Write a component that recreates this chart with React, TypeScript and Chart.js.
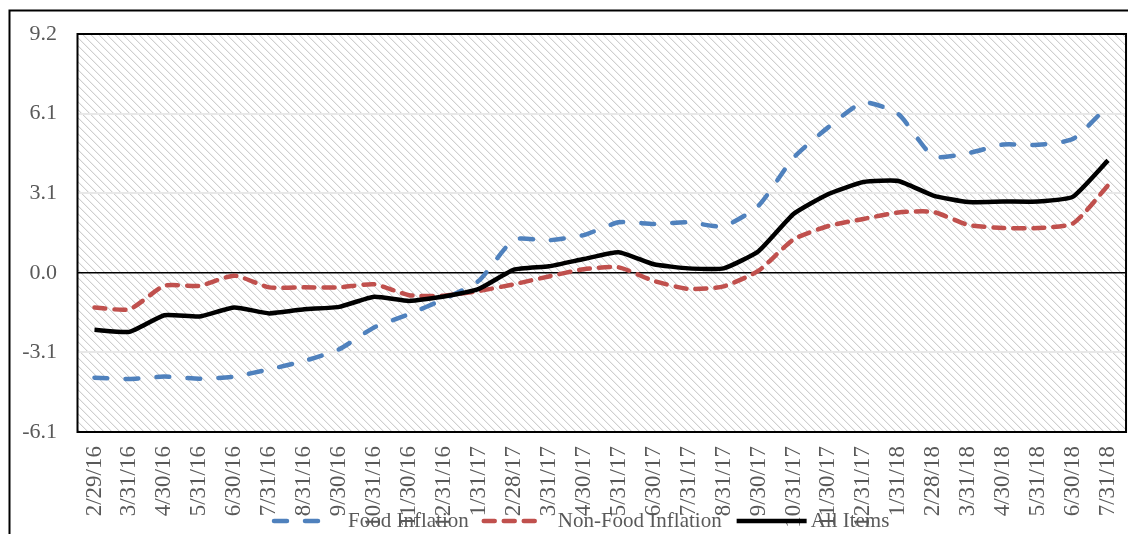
import React, { useEffect, useRef } from 'react';
import { Chart, registerables } from 'chart.js';

Chart.register(...registerables);

const categories = [
  '2/29/16', '3/31/16', '4/30/16', '5/31/16', '6/30/16', '7/31/16', '8/31/16', '9/30/16',
  '10/31/16', '11/30/16', '12/31/16', '1/31/17', '2/28/17', '3/31/17', '4/30/17', '5/31/17',
  '6/30/17', '7/31/17', '8/31/17', '9/30/17', '10/31/17', '11/30/17', '12/31/17', '1/31/18',
  '2/28/18', '3/31/18', '4/30/18', '5/31/18', '6/30/18', '7/31/18',
];

const foodInflation = [
  -4.03, -4.08, -3.99, -4.07, -3.99, -3.71, -3.39, -2.94, -2.1, -1.59, -1.01, -0.3, 1.27, 1.25, 1.45,
  1.94, 1.88, 1.94, 1.79, 2.58, 4.42, 5.6, 6.55, 6.1, 4.48, 4.6, 4.93, 4.92, 5.15, 6.42,
];

const nonFoodInflation = [
  -1.33, -1.4, -0.5, -0.5, -0.11, -0.56, -0.56, -0.56, -0.44, -0.86, -0.88, -0.7, -0.44, -0.14, 0.14,
  0.21, -0.31, -0.62, -0.52, 0.08, 1.28, 1.8, 2.07, 2.32, 2.34, 1.84, 1.72, 1.72, 1.9, 3.36,
];

const allItems = [
  -2.19, -2.27, -1.63, -1.68, -1.33, -1.56, -1.4, -1.31, -0.92, -1.08, -0.91, -0.62, 0.12, 0.25, 0.53,
  0.79, 0.33, 0.17, 0.17, 0.83, 2.26, 3.03, 3.49, 3.53, 2.97, 2.72, 2.74, 2.74, 2.93, 4.32,
];

const yTicks = [-6.12, -3.06, 0, 3.06, 6.12, 9.18];

const seriesLabels = ['Food Inflation', 'Non-Food Inflation', 'All Items'];

const W = 1150;
const H = 534;
const FONT = "'Liberation Serif', 'Times New Roman', serif";
const TEXT = '#595959';

function makePattern(ctx: CanvasRenderingContext2D) {
  const c = document.createElement('canvas');
  c.width = 8;
  c.height = 8;
  const p = c.getContext('2d')!;
  p.fillStyle = '#ffffff';
  p.fillRect(0, 0, 8, 8);
  for (let r = 0; r < 8; r++) {
    p.fillStyle = '#cfcfcf';
    p.fillRect(r, r, 1, 1);
    p.fillStyle = '#f0f0f0';
    p.fillRect((r + 1) % 8, r, 1, 1);
  }
  return ctx.createPattern(c, 'repeat');
}

const decor = {
  id: 'decor',
  beforeDraw(chart: any) {
    const { ctx, chartArea: a } = chart;
    ctx.save();
    ctx.fillStyle = '#ffffff';
    ctx.fillRect(0, 0, chart.width, chart.height);
    const pat = makePattern(ctx);
    if (pat) ctx.fillStyle = pat;
    ctx.fillRect(a.left, a.top, a.right - a.left, a.bottom - a.top);
    ctx.strokeStyle = '#000';
    ctx.lineWidth = 2;
    ctx.beginPath();
    ctx.moveTo(9.5, chart.height + 4);
    ctx.lineTo(9.5, 10.5);
    ctx.lineTo(chart.width + 4, 10.5);
    ctx.stroke();
    ctx.restore();
  },
  beforeDatasetsDraw(chart: any) {
    const { ctx, chartArea: a } = chart;
    ctx.save();
    ctx.strokeStyle = '#000';
    ctx.lineWidth = 2;
    ctx.strokeRect(a.left + 0.5, a.top, a.right - a.left, a.bottom - a.top);
    ctx.restore();
  },
  afterDraw(chart: any) {
    const { ctx } = chart;
    ctx.save();
    ctx.font = `21px ${FONT}`;
    let x = 274;
    const ly = 521;
    chart.data.datasets.forEach((d: any) => {
      ctx.strokeStyle = d.borderColor;
      ctx.lineWidth = d.borderWidth;
      ctx.setLineDash(d.borderDash || []);
      ctx.lineCap = d.borderCapStyle || 'butt';
      ctx.beginPath();
      ctx.moveTo(x, ly);
      ctx.lineTo(x + (d.borderDash ? 60 : 70), ly);
      ctx.stroke();
      ctx.setLineDash([]);
      ctx.fillStyle = TEXT;
      ctx.textBaseline = 'alphabetic';
      ctx.textAlign = 'left';
      ctx.fillText(d.label, x + 74, 527);
      x += 74 + ctx.measureText(d.label).width + 15;
    });
    ctx.restore();
  },
};

export default function App() {
  const ref = useRef<HTMLCanvasElement>(null);

  useEffect(() => {
    if (!ref.current) return;
    const chart = new Chart(ref.current, {
      type: 'line',
      data: {
        labels: categories,
        datasets: [
          {
            label: seriesLabels[0],
            data: foodInflation,
            borderColor: '#4F81BD',
            borderWidth: 4.5,
            borderDash: [13, 18],
            borderCapStyle: 'round',
            pointRadius: 0,
            tension: 0.2,
            fill: false,
            order: 3,
          },
          {
            label: seriesLabels[1],
            data: nonFoodInflation,
            borderColor: '#C0504D',
            borderWidth: 4.5,
            borderDash: [11, 9],
            borderCapStyle: 'round',
            pointRadius: 0,
            tension: 0.2,
            fill: false,
            order: 2,
          },
          {
            label: seriesLabels[2],
            data: allItems,
            borderColor: '#000000',
            borderWidth: 4.5,
            borderCapStyle: 'butt',
            pointRadius: 0,
            tension: 0.15,
            fill: false,
            order: 1,
          },
        ],
      } as any,
      options: {
        animation: false,
        responsive: false,
        devicePixelRatio: 1,
        layout: { padding: { top: 34, right: W - 1129, left: 0, bottom: 0 } },
        plugins: {
          legend: { display: false },
          tooltip: { enabled: false },
        },
        scales: {
          x: {
            type: 'category',
            offset: true,
            grid: { display: false, drawTicks: false },
            border: { display: false },
            ticks: {
              autoSkip: false,
              maxRotation: 90,
              minRotation: 90,
              padding: 14,
              color: TEXT,
              font: { family: FONT, size: 23 },
            },
            afterFit: (s: any) => {
              s.height = H - 432;
            },
          },
          y: {
            min: -6.12,
            max: 9.18,
            grid: {
              drawTicks: false,
              color: (c: any) => (c.tick && Math.abs(c.tick.value) < 1e-9 ? '#000000' : '#e8e8e8'),
              lineWidth: (c: any) => (c.tick && Math.abs(c.tick.value) < 1e-9 ? 1.5 : 2),
            },
            border: { display: false },
            afterBuildTicks: (s: any) => {
              s.ticks = yTicks.map((v) => ({ value: v }));
            },
            ticks: {
              padding: 20,
              color: TEXT,
              font: { family: FONT, size: 22 },
              callback: (v: any) => Number(v).toFixed(1),
            },
            afterFit: (s: any) => {
              s.width = 77;
            },
          },
        },
      },
      plugins: [decor],
    });
    return () => chart.destroy();
  }, []);

  return (
    <div
      style={{
        position: 'fixed',
        left: 0,
        top: 0,
        width: 1128,
        height: 534,
        overflow: 'hidden',
        background: '#fff',
      }}
    >
      <canvas ref={ref} width={W} height={H} style={{ display: 'block' }} />
    </div>
  );
}
